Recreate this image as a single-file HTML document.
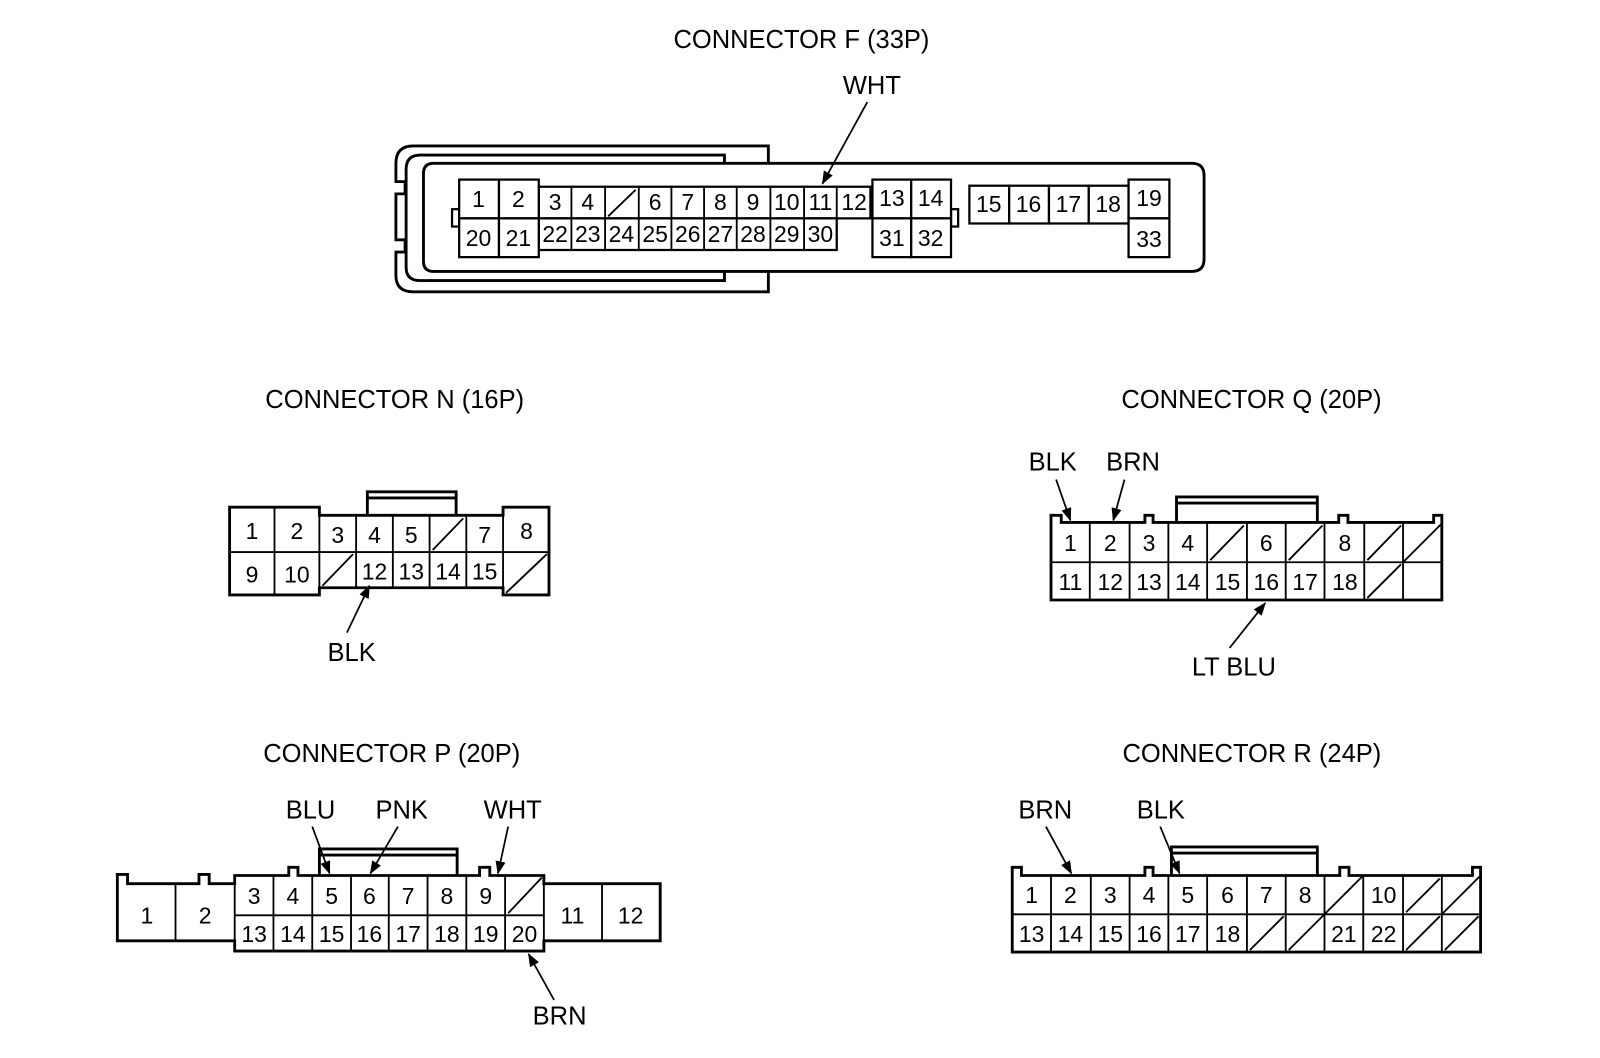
<!DOCTYPE html>
<html><head><meta charset="utf-8"><style>
html,body{margin:0;padding:0;background:#fff;}
svg{display:block;}
text{font-family:"Liberation Sans",Arial,sans-serif;fill:#000;}
.t{font-size:25px;}
.n{font-size:22.5px;text-anchor:middle;}
.s{fill:none;stroke:#000;stroke-width:2.8;}
.c{fill:#fff;stroke:#000;stroke-width:2.2;}
.d{stroke:#000;stroke-width:1.8;}
.a{stroke:#000;stroke-width:1.7;fill:none;}
</style></head><body>
<svg width="1600" height="1058" viewBox="0 0 1600 1058" xmlns="http://www.w3.org/2000/svg">
<defs><marker id="ar" markerWidth="13" markerHeight="10" refX="12" refY="5" orient="auto" markerUnits="userSpaceOnUse"><path d="M0,0 L13,5 L0,10 Z" fill="#000"/></marker></defs>
<g transform="scale(1.0204)">
<!-- Titles -->
<text class="t" x="660" y="47">CONNECTOR F (33P)</text>
<text class="t" x="260" y="400">CONNECTOR N (16P)</text>
<text class="t" x="1099" y="400">CONNECTOR Q (20P)</text>
<text class="t" x="258" y="747">CONNECTOR P (20P)</text>
<text class="t" x="1100" y="747">CONNECTOR R (24P)</text>

<!-- ===== Connector F ===== -->
<path class="s" d="M753,160 L753,143 L405,143 Q388,143 388,160 L388,178 L397,178 L397,190 L388,190 L388,235 L397,235 L397,247 L388,247 L388,270 Q388,286 405,286 L753,286 L753,266"/>
<path class="s" d="M710,160 L710,152 L412,152 Q398,152 398,166 L398,262 Q398,275 412,275 L710,275 L710,266"/>
<path class="s" d="M753,160 L1168,160 Q1180,160 1180,172 L1180,254 Q1180,266 1168,266 L425,266 Q415,266 415,256 L415,170 Q415,160 425,160 Z"/>
<rect class="c" x="443" y="205" width="7" height="17"/>
<rect class="c" x="932" y="205" width="7" height="17"/>
<rect class="c" x="528" y="183" width="325" height="31"/>
<rect class="c" x="528" y="214" width="292" height="31"/>
<g class="d">
<line x1="560" y1="183" x2="560" y2="245"/><line x1="593" y1="183" x2="593" y2="245"/><line x1="626" y1="183" x2="626" y2="245"/><line x1="658" y1="183" x2="658" y2="245"/><line x1="690" y1="183" x2="690" y2="245"/><line x1="722" y1="183" x2="722" y2="245"/><line x1="755" y1="183" x2="755" y2="245"/><line x1="788" y1="183" x2="788" y2="245"/><line x1="820" y1="183" x2="820" y2="214"/>
<line x1="596" y1="212" x2="623" y2="186"/>
</g>
<rect class="c" x="450" y="176" width="39" height="38"/><rect class="c" x="489" y="176" width="39" height="38"/>
<rect class="c" x="450" y="214" width="39" height="38"/><rect class="c" x="489" y="214" width="39" height="38"/>
<rect class="c" x="855" y="176" width="38" height="38"/><rect class="c" x="893" y="176" width="39" height="38"/>
<rect class="c" x="855" y="214" width="38" height="38"/><rect class="c" x="893" y="214" width="39" height="38"/>
<rect class="c" x="950" y="182" width="39" height="37"/><rect class="c" x="989" y="182" width="39" height="37"/><rect class="c" x="1028" y="182" width="39" height="37"/><rect class="c" x="1067" y="182" width="39" height="37"/>
<rect class="c" x="1106" y="176" width="40" height="38"/><rect class="c" x="1106" y="214" width="40" height="38"/>
<g class="n">
<text x="469" y="203">1</text><text x="508" y="203">2</text>
<text x="544" y="206">3</text><text x="576" y="206">4</text><text x="642" y="206">6</text><text x="674" y="206">7</text><text x="706" y="206">8</text><text x="738" y="206">9</text><text x="771" y="206">10</text><text x="804" y="206">11</text><text x="837" y="206">12</text>
<text x="469" y="241">20</text><text x="508" y="241">21</text>
<text x="544" y="237">22</text><text x="576" y="237">23</text><text x="609" y="237">24</text><text x="642" y="237">25</text><text x="674" y="237">26</text><text x="706" y="237">27</text><text x="738" y="237">28</text><text x="771" y="237">29</text><text x="804" y="237">30</text>
<text x="874" y="202">13</text><text x="912" y="202">14</text><text x="874" y="241">31</text><text x="912" y="241">32</text>
<text x="969" y="208">15</text><text x="1008" y="208">16</text><text x="1047" y="208">17</text><text x="1086" y="208">18</text>
<text x="1126" y="202">19</text><text x="1126" y="242">33</text>
</g>
<text class="t" x="826" y="92">WHT</text>
<line class="a" x1="850" y1="100" x2="806" y2="180" marker-end="url(#ar)"/>

<!-- ===== Connector N ===== -->
<path class="s" d="M360,505 L360,482 L447,482 L447,505 M360,488 L447,488"/>
<path class="s" d="M225,497 L313,497 L313,505 L493,505 L493,497 L538,497 L538,583 L493,583 L493,576 L313,576 L313,583 L225,583 Z"/>
<g class="d">
<line x1="269" y1="497" x2="269" y2="583"/><line x1="313" y1="505" x2="313" y2="576"/>
<line x1="349" y1="505" x2="349" y2="576"/><line x1="385" y1="505" x2="385" y2="576"/><line x1="421" y1="505" x2="421" y2="576"/><line x1="457" y1="505" x2="457" y2="576"/><line x1="493" y1="505" x2="493" y2="576"/>
<line x1="225" y1="541" x2="538" y2="541"/>
<line x1="316" y1="574" x2="346" y2="543"/><line x1="424" y1="539" x2="454" y2="508"/><line x1="496" y1="581" x2="536" y2="543"/>
</g>
<g class="n">
<text x="247" y="528">1</text><text x="291" y="528">2</text><text x="331" y="532">3</text><text x="367" y="532">4</text><text x="403" y="532">5</text><text x="475" y="532">7</text><text x="516" y="528">8</text>
<text x="247" y="571">9</text><text x="291" y="571">10</text><text x="367" y="568">12</text><text x="403" y="568">13</text><text x="439" y="568">14</text><text x="475" y="568">15</text>
</g>
<text class="t" x="321" y="648">BLK</text>
<line class="a" x1="340" y1="620" x2="362" y2="574" marker-end="url(#ar)"/>

<!-- ===== Connector Q ===== -->
<path class="s" d="M1153,512 L1153,487 L1291,487 L1291,512 M1153,493 L1291,493"/>
<path class="s" d="M1030,588 L1030,505 L1040,505 L1040,512 L1122,512 L1122,505 L1130,505 L1130,512 L1312,512 L1312,505 L1321,505 L1321,512 L1405,512 L1405,505 L1413,505 L1413,588 Z"/>
<g class="d">
<line x1="1068" y1="512" x2="1068" y2="588"/><line x1="1107" y1="512" x2="1107" y2="588"/><line x1="1145" y1="512" x2="1145" y2="588"/><line x1="1183" y1="512" x2="1183" y2="588"/><line x1="1222" y1="512" x2="1222" y2="588"/><line x1="1260" y1="512" x2="1260" y2="588"/><line x1="1298" y1="512" x2="1298" y2="588"/><line x1="1337" y1="512" x2="1337" y2="588"/><line x1="1375" y1="512" x2="1375" y2="588"/>
<line x1="1030" y1="551" x2="1413" y2="551"/>
<line x1="1186" y1="549" x2="1219" y2="515"/><line x1="1263" y1="549" x2="1296" y2="515"/><line x1="1340" y1="549" x2="1373" y2="515"/><line x1="1375" y1="551" x2="1412" y2="514"/><line x1="1340" y1="586" x2="1373" y2="553"/>
</g>
<g class="n">
<text x="1049" y="540">1</text><text x="1088" y="540">2</text><text x="1126" y="540">3</text><text x="1164" y="540">4</text><text x="1241" y="540">6</text><text x="1318" y="540">8</text>
<text x="1049" y="578">11</text><text x="1088" y="578">12</text><text x="1126" y="578">13</text><text x="1164" y="578">14</text><text x="1203" y="578">15</text><text x="1241" y="578">16</text><text x="1279" y="578">17</text><text x="1318" y="578">18</text>
</g>
<text class="t" x="1008" y="461">BLK</text><text class="t" x="1084" y="461">BRN</text>
<line class="a" x1="1035" y1="470" x2="1049" y2="510" marker-end="url(#ar)"/>
<line class="a" x1="1102" y1="470" x2="1091" y2="510" marker-end="url(#ar)"/>
<text class="t" x="1168" y="662">LT BLU</text>
<line class="a" x1="1205" y1="635" x2="1240" y2="591" marker-end="url(#ar)"/>

<!-- ===== Connector P ===== -->
<path class="s" d="M313,858 L313,832 L448,832 L448,858 M313,838 L448,838"/>
<path class="s" d="M115,922 L115,857 L125,857 L125,866 L195,866 L195,857 L205,857 L205,866 L230,866 L230,858 L283,858 L283,850 L292,850 L292,858 L470,858 L470,850 L480,850 L480,858 L533,858 L533,866 L647,866 L647,922 L533,922 L533,932 L230,932 L230,922 Z"/>
<g class="d">
<line x1="172" y1="866" x2="172" y2="922"/><line x1="230" y1="866" x2="230" y2="922"/><line x1="590" y1="866" x2="590" y2="922"/><line x1="533" y1="866" x2="533" y2="922"/>
<line x1="268" y1="858" x2="268" y2="932"/><line x1="306" y1="858" x2="306" y2="932"/><line x1="344" y1="858" x2="344" y2="932"/><line x1="381" y1="858" x2="381" y2="932"/><line x1="419" y1="858" x2="419" y2="932"/><line x1="457" y1="858" x2="457" y2="932"/><line x1="495" y1="858" x2="495" y2="932"/>
<line x1="230" y1="897" x2="533" y2="897"/>
<line x1="498" y1="895" x2="531" y2="860"/>
</g>
<g class="n">
<text x="144" y="905">1</text><text x="201" y="905">2</text>
<text x="249" y="886">3</text><text x="287" y="886">4</text><text x="325" y="886">5</text><text x="362" y="886">6</text><text x="400" y="886">7</text><text x="438" y="886">8</text><text x="476" y="886">9</text>
<text x="249" y="923">13</text><text x="287" y="923">14</text><text x="325" y="923">15</text><text x="362" y="923">16</text><text x="400" y="923">17</text><text x="438" y="923">18</text><text x="476" y="923">19</text><text x="514" y="923">20</text>
<text x="561" y="905">11</text><text x="618" y="905">12</text>
</g>
<text class="t" x="280" y="802">BLU</text><text class="t" x="368" y="802">PNK</text><text class="t" x="474" y="802">WHT</text>
<line class="a" x1="306" y1="810" x2="323" y2="856" marker-end="url(#ar)"/>
<line class="a" x1="390" y1="810" x2="363" y2="856" marker-end="url(#ar)"/>
<line class="a" x1="498" y1="810" x2="488" y2="856" marker-end="url(#ar)"/>
<text class="t" x="522" y="1004">BRN</text>
<line class="a" x1="543" y1="980" x2="518" y2="935" marker-end="url(#ar)"/>

<!-- ===== Connector R ===== -->
<path class="s" d="M1148,858 L1148,830 L1291,830 L1291,858 M1148,836 L1291,836"/>
<path class="s" d="M992,933 L992,850 L1001,850 L1001,858 L1122,858 L1122,850 L1130,850 L1130,858 L1313,858 L1313,850 L1322,850 L1322,858 L1443,858 L1443,850 L1451,850 L1451,933 Z"/>
<g class="d">
<line x1="1030" y1="858" x2="1030" y2="933"/><line x1="1069" y1="858" x2="1069" y2="933"/><line x1="1107" y1="858" x2="1107" y2="933"/><line x1="1145" y1="858" x2="1145" y2="933"/><line x1="1183" y1="858" x2="1183" y2="933"/><line x1="1222" y1="858" x2="1222" y2="933"/><line x1="1260" y1="858" x2="1260" y2="933"/><line x1="1298" y1="858" x2="1298" y2="933"/><line x1="1336" y1="858" x2="1336" y2="933"/><line x1="1375" y1="858" x2="1375" y2="933"/><line x1="1413" y1="858" x2="1413" y2="933"/>
<line x1="992" y1="896" x2="1451" y2="896"/>
<line x1="1298" y1="896" x2="1336" y2="858"/><line x1="1378" y1="894" x2="1411" y2="861"/><line x1="1413" y1="896" x2="1450" y2="859"/>
<line x1="1225" y1="931" x2="1258" y2="898"/><line x1="1263" y1="931" x2="1298" y2="896"/><line x1="1378" y1="931" x2="1411" y2="898"/><line x1="1416" y1="931" x2="1449" y2="898"/>
</g>
<g class="n">
<text x="1011" y="885">1</text><text x="1049" y="885">2</text><text x="1088" y="885">3</text><text x="1126" y="885">4</text><text x="1164" y="885">5</text><text x="1203" y="885">6</text><text x="1241" y="885">7</text><text x="1279" y="885">8</text><text x="1356" y="885">10</text>
<text x="1011" y="923">13</text><text x="1049" y="923">14</text><text x="1088" y="923">15</text><text x="1126" y="923">16</text><text x="1164" y="923">17</text><text x="1203" y="923">18</text><text x="1317" y="923">21</text><text x="1356" y="923">22</text>
</g>
<text class="t" x="998" y="802">BRN</text><text class="t" x="1114" y="802">BLK</text>
<line class="a" x1="1025" y1="810" x2="1050" y2="856" marker-end="url(#ar)"/>
<line class="a" x1="1137" y1="810" x2="1156" y2="856" marker-end="url(#ar)"/>
</g>
</svg>
</body></html>
